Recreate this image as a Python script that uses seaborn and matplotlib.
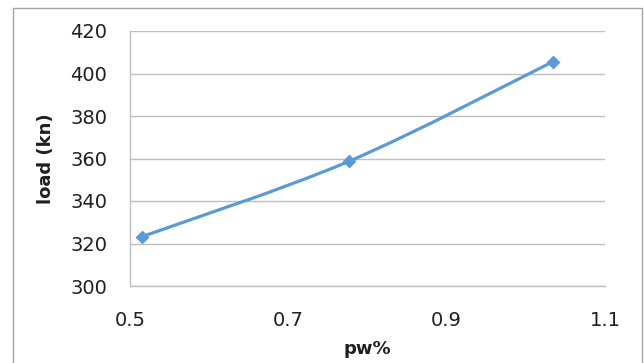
import matplotlib
matplotlib.use("Agg")
import matplotlib.pyplot as plt
from matplotlib.path import Path
from matplotlib.patches import PathPatch, Rectangle
import numpy as np
import pandas as pd
import seaborn as sns

# Measured data
pw = [0.515, 0.776, 1.034]
load = [323.2, 358.6, 405.5]

x_ticks = [0.5, 0.7, 0.9, 1.1]
y_ticks = [300, 320, 340, 360, 380, 400, 420]

LINE_COLOR = "#5B9BD5"
GRID_COLOR = "#BFBFBF"
TEXT_COLOR = "#1F1F1F"

sns.set_theme(style="white")
plt.rcParams["font.family"] = ["DejaVu Sans"]

df = pd.DataFrame({"pw%": pw, "load (kn)": load})

fig = plt.figure(figsize=(6.44, 3.63), dpi=100)
ax = fig.add_axes([130 / 644, 77 / 363, 475 / 644, 255 / 363])

# Smoothed connecting curve (cubic Bezier segments through the points)
pts = np.column_stack([pw, load])
n = len(pts)
verts = [tuple(pts[0])]
codes = [Path.MOVETO]
for i in range(n - 1):
    p_prev = pts[max(i - 1, 0)]
    p0 = pts[i]
    p1 = pts[i + 1]
    p_next = pts[min(i + 2, n - 1)]
    c1 = p0 + (p1 - p_prev) / 6.0
    c2 = p1 - (p_next - p0) / 6.0
    verts += [tuple(c1), tuple(c2), tuple(p1)]
    codes += [Path.CURVE4] * 3
curve = PathPatch(Path(verts, codes), facecolor="none", edgecolor=LINE_COLOR,
                  linewidth=2.3, transform=ax.transData, zorder=3,
                  capstyle="round")
ax.add_patch(curve)

sns.scatterplot(data=df, x="pw%", y="load (kn)", marker="D", s=50,
                color=LINE_COLOR, edgecolor=LINE_COLOR, linewidth=0,
                ax=ax, zorder=4)

ax.set_xlim(0.5, 1.1)
ax.set_ylim(300, 420)
ax.set_xticks(x_ticks)
ax.set_xticklabels([f"{v:g}" for v in x_ticks])
ax.set_yticks(y_ticks)
ax.set_yticklabels([str(v) for v in y_ticks])

ax.grid(axis="y", color=GRID_COLOR, linewidth=1.0)
ax.grid(axis="x", visible=False)
ax.set_axisbelow(True)

for side in ["top", "right"]:
    ax.spines[side].set_visible(False)
for side in ["left", "bottom"]:
    ax.spines[side].set_color(GRID_COLOR)
    ax.spines[side].set_linewidth(1.0)

ax.tick_params(axis="both", length=0, labelsize=14, colors=TEXT_COLOR)
ax.tick_params(axis="y", pad=16.5)
ax.tick_params(axis="x", pad=18)

ax.set_xlabel("pw%", fontsize=13, fontweight="bold", color=TEXT_COLOR,
              labelpad=7)
ax.set_ylabel("load (kn)", fontsize=13, fontweight="bold", color=TEXT_COLOR,
              labelpad=11)

# Outer chart frame
fig.patches.append(Rectangle((13 / 644, -0.05), 629 / 644, 1 - 8 / 363 + 0.05,
                             transform=fig.transFigure, fill=False,
                             edgecolor="#A6A6A6", linewidth=1.0))

fig.savefig("out.png", dpi=100, facecolor="white")
